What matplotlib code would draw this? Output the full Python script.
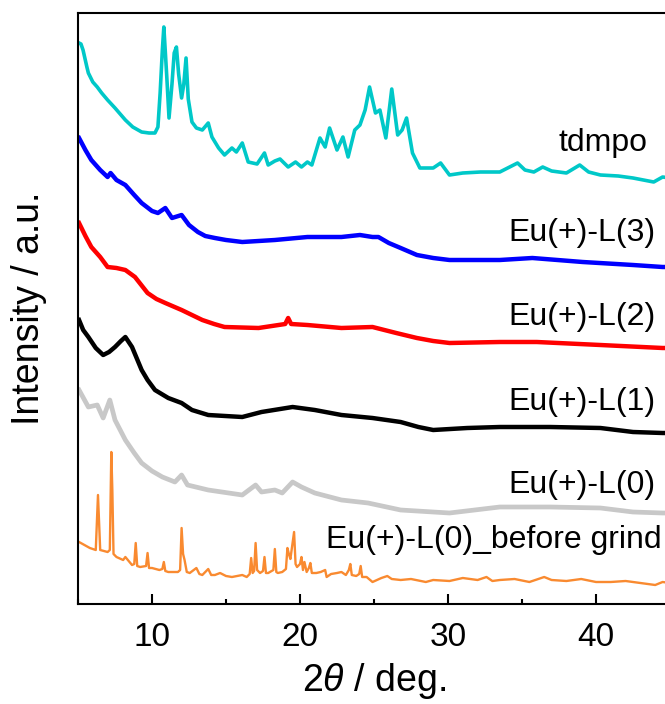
import matplotlib
matplotlib.use("Agg")
import matplotlib.pyplot as plt
from matplotlib.ticker import MultipleLocator

plt.rcParams['font.family'] = ['Liberation Sans', 'DejaVu Sans']
plt.rcParams['mathtext.fontset'] = 'custom'
plt.rcParams['mathtext.rm'] = 'Liberation Sans'
plt.rcParams['mathtext.it'] = 'Liberation Sans:italic'

# ---------------- data (2theta in deg, stacked intensity in a.u.) ----------------
tdmpo_x = [5.07, 5.2, 5.34, 5.6, 5.7, 6.0, 6.3, 6.6, 7.0, 7.5, 8.2, 8.7, 9.3, 9.8, 10.2, 10.4,
           10.55, 10.7, 10.8, 11.0, 11.15, 11.35, 11.5, 11.65, 11.8, 12.0, 12.15, 12.3, 12.45,
           12.7, 13.0, 13.4, 13.8, 14.05, 14.5, 14.9, 15.4, 15.7, 16.1, 16.5, 17.1, 17.6, 17.85,
           18.3, 18.65, 19.2, 19.7, 20.1, 20.5, 20.8, 21.35, 21.7, 22.0, 22.5, 22.9, 23.25, 23.7,
           24.05, 24.4, 24.7, 25.1, 25.4, 25.8, 26.2, 26.6, 26.9, 27.2, 27.6, 28.1, 29.0, 29.5,
           30.1, 31.0, 32.2, 33.5, 34.7, 35.2, 35.8, 36.4, 37.0, 38.0, 38.9, 39.5, 40.3, 41.5,
           42.5, 43.9, 44.5, 45.0]
tdmpo_y = [561, 560, 554, 537, 531, 522, 517, 511, 504, 496, 484, 477, 472, 471, 471, 477,
           511, 554, 577, 527, 486, 520, 551, 557, 530, 506, 520, 546, 505,
           482, 476, 474, 481, 467, 456, 449, 456, 452, 461, 442, 440, 451, 439,
           443, 445, 437, 442, 437, 442, 439, 466, 457, 476, 454, 467, 447, 474,
           479, 494, 517, 491, 494, 466, 515, 469, 474, 486, 451, 436, 436, 441,
           429, 431, 432, 432, 441, 434, 432, 437, 433, 431, 439, 432, 429, 428,
           426, 422, 427, 426]

L3_x = [5.07, 5.5, 5.9, 6.5, 7.0, 7.2, 7.6, 8.2, 8.8, 9.3, 10.0, 10.4, 10.9, 11.35, 12.0, 12.5,
        13.1, 13.6, 14.25, 15.0, 16.1, 18.3, 20.5, 22.8, 24.05, 24.9, 25.3, 26.0, 26.8, 27.9,
        29.0, 30.1, 33.5, 35.7, 39.1, 42.5, 44.5, 45.0]
L3_y = [466, 454, 444, 434, 427, 431, 424, 419, 409, 401, 393, 391, 396, 386, 389, 379,
        372, 368, 366, 364, 362, 364, 367, 367, 369, 367, 367, 361, 356, 349,
        346, 344, 344, 346, 342, 339, 337, 337]

L2_x = [5.07, 5.5, 5.9, 6.5, 7.0, 7.6, 8.2, 8.85, 9.7, 10.3, 10.9, 12.0, 13.4, 14.2, 14.9, 17.2,
        19.0, 19.2, 19.4, 20.5, 22.8, 24.9, 26.5, 27.9, 29.0, 30.1, 33.5, 36.0, 40.3, 44.5, 45.0]
L2_y = [381, 368, 357, 347, 337, 336, 334, 327, 311, 305, 301, 294, 284, 280, 277, 276,
        280, 286, 280, 279, 276, 277, 271, 266, 263, 261, 262, 262, 259, 256, 256]

L1_x = [5.07, 5.35, 5.7, 6.2, 6.7, 7.1, 7.5, 7.9, 8.2, 8.65, 9.3, 9.7, 10.2, 11.1, 12.0, 12.7,
        13.8, 16.1, 17.4, 19.5, 21.0, 22.8, 24.9, 26.8, 28.0, 29.0, 31.3, 33.5, 36.9, 40.3,
        42.5, 44.5, 45.0]
L1_y = [284, 274, 267, 256, 249, 252, 257, 263, 267, 257, 234, 224, 214, 206, 201, 194,
        189, 187, 192, 197, 194, 189, 186, 182, 177, 174, 176, 177, 177, 176,
        172, 171, 171]

L0_x = [5.07, 5.7, 6.3, 6.7, 7.15, 7.5, 8.2, 8.8, 9.3, 10.0, 10.7, 11.55, 12.0, 12.4, 13.8, 16.1,
        17.0, 17.4, 18.3, 18.8, 19.5, 20.1, 21.0, 22.8, 24.6, 26.8, 30.1, 33.5, 36.9, 40.3,
        42.5, 44.5, 45.0]
L0_y = [214, 197, 199, 186, 204, 184, 164, 151, 141, 133, 127, 122, 129, 119, 114, 109,
        119, 112, 114, 111, 122, 117, 111, 104, 101, 94, 91, 97, 97, 96,
        92, 91, 91]

bg_x = [5.07, 5.8, 6.2, 6.35, 6.5, 7.0, 7.15, 7.25, 7.32, 7.4, 7.6, 8.05, 8.2, 8.65, 8.8, 8.9, 9.0,
        9.2, 9.6, 9.7, 9.8, 10.0, 10.5, 10.7, 10.8, 10.9, 11.1, 11.75, 11.9, 12.0, 12.1, 12.2,
        12.35, 12.55, 13.0, 13.2, 13.4, 13.8, 14.0, 14.25, 14.6, 15.0, 15.4, 16.1, 16.4, 16.6,
        16.7, 16.8, 16.9, 17.0, 17.1, 17.3, 17.5, 17.6, 17.7, 17.85, 18.2, 18.3, 18.4, 18.5,
        18.8, 19.05, 19.15, 19.25, 19.35, 19.6, 19.7, 19.8, 20.0, 20.1, 20.2, 20.3, 20.45,
        20.6, 20.7, 20.8, 21.1, 21.4, 21.7, 21.8, 22.1, 22.5, 22.8, 23.1, 23.3, 23.4, 23.5,
        23.8, 24.0, 24.1, 24.2, 24.5, 24.9, 25.5, 25.9, 26.2, 26.8, 27.5, 28.5, 29.0, 30.1,
        31.0, 32.0, 32.6, 33.0, 33.5, 34.5, 35.5, 36.5, 37.0, 38.0, 39.0, 40.0, 41.0, 42.0,
        43.0, 44.0, 44.5, 45.0]
bg_y = [62, 56, 54, 109, 54, 52, 54, 152, 114, 50, 47, 44, 47, 39, 40, 61, 38,
        37, 38, 51, 36, 36, 34, 35, 42, 33, 32, 32, 34, 76, 50, 44,
        32, 31, 36, 30, 29, 35, 29, 29, 31, 28, 27, 29, 27, 30,
        46, 31, 33, 61, 34, 31, 33, 47, 31, 31, 34, 55, 32, 31,
        32, 35, 56, 50, 45, 72, 40, 37, 40, 47, 34, 42, 32,
        36, 41, 31, 31, 32, 34, 27, 30, 31, 32, 29, 34, 40, 29,
        28, 30, 38, 27, 27, 22, 26, 28, 25, 24, 25, 22, 24, 23,
        26, 24, 27, 23, 24, 25, 22, 27, 24, 23, 25, 22, 22, 23,
        21, 19, 22, 21]

series_x = [tdmpo_x, L3_x, L2_x, L1_x, L0_x, bg_x]
series_y = [tdmpo_y, L3_y, L2_y, L1_y, L0_y, bg_y]
names = ["tdmpo", "Eu(+)-L(3)", "Eu(+)-L(2)", "Eu(+)-L(1)", "Eu(+)-L(0)", "Eu(+)-L(0)_before grind"]
colors = ["#00C8C8", "#0000FF", "#FF0000", "#000000", "#C8C8C8", "#F98A30"]
xticks = [10, 20, 30, 40]

# label anchor (right edge x, center y) in data coords
label_x = [43.45, 44.0, 44.0, 44.0, 44.0, 44.45]
label_y = [461, 371, 287, 202, 119, 64]
lws = [2.6, 3.2, 3.2, 3.2, 3.4, 1.7]

fig = plt.figure(figsize=(6.65, 7.04), dpi=100)
ax = fig.add_axes([78 / 665, 100 / 704, (670 - 78) / 665, 591 / 704])

for x, y, c, lw in zip(series_x, series_y, colors, lws):
    ax.plot(x, y, color=c, lw=lw, solid_joinstyle='round')

for n, lx, ly in zip(names, label_x, label_y):
    ax.text(lx, ly, n, ha='right', va='center', fontsize=23, color='black')

ax.set_xlim(5, 45)
ax.set_ylim(0, 591)
ax.set_xticks(xticks)
ax.xaxis.set_minor_locator(MultipleLocator(5))
ax.set_yticks([])
ax.tick_params(axis='x', which='major', direction='in', length=7.5, width=1.5, labelsize=24, pad=13)
ax.tick_params(axis='x', which='minor', direction='in', length=3.8, width=1.5)
for s in ax.spines.values():
    s.set_linewidth(1.5)
ax.set_xlabel('2$\\it{\\theta}$ / deg.', fontsize=27, labelpad=6)
ax.set_ylabel('Intensity / a.u.', fontsize=27, labelpad=22)

fig.savefig("out.png", dpi=100)
